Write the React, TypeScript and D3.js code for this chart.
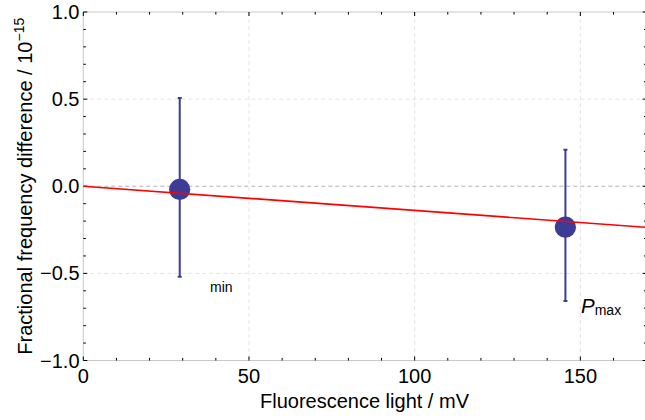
import React from "react";
import * as d3 from "d3";

const W = 645;
const H = 420;

// data
const pointX = [29.1, 145.5];
const pointY = [-0.018, -0.235];
const errHigh = [0.506, 0.21];
const errLow = [-0.52, -0.658];
const fitX = [0, 170];
const fitY = [0, -0.236];
const xMajor = [0, 50, 100, 150];
const xMajorLabels = ["0", "50", "100", "150"];
const yMajor = [-1, -0.5, 0, 0.5, 1];
const yMajorLabels = ["\u22121.0", "\u22120.5", "0.0", "0.5", "1.0"];
const xGrid = [50, 100, 150];
const yGrid = [-0.5, 0.5];

const xMinor = d3.range(0, 171, 10);
const yMinor = d3.range(-10, 11, 1).map((v) => v / 10);

const FONT = "'Liberation Sans', Arial, Helvetica, sans-serif";
const BLUE = "#3c3c97";

export default function App() {
  const left = 83.3;
  const right = 646.6;
  const top = 12;
  const bottom = 360.5;
  const x = d3.scaleLinear().domain([0, 170]).range([left, right]);
  const y = d3.scaleLinear().domain([-1, 1]).range([bottom, top]);
  const line = d3
    .line<number>()
    .x((_, i) => x(fitX[i]))
    .y((_, i) => y(fitY[i]));

  return (
    <svg
      width={W}
      height={H}
      style={{ position: "absolute", left: 0, top: 0, background: "#fff" }}
      fontFamily={FONT}
    >
      <defs>
        <clipPath id="plot">
          <rect x={left} y={top} width={right - left} height={bottom - top} />
        </clipPath>
      </defs>
      {/* grid */}
      {xGrid.map((v) => (
        <line
          key={"gx" + v}
          x1={x(v)}
          x2={x(v)}
          y1={top}
          y2={bottom}
          stroke="#e4e4e4"
          strokeWidth={1}
          strokeDasharray="4,3"
        />
      ))}
      {yGrid.map((v) => (
        <line
          key={"gy" + v}
          x1={left}
          x2={right}
          y1={y(v)}
          y2={y(v)}
          stroke="#e4e4e4"
          strokeWidth={1}
          strokeDasharray="4,3"
        />
      ))}
      <line
        x1={left}
        x2={right}
        y1={y(0)}
        y2={y(0)}
        stroke="#b4b4b4"
        strokeWidth={1}
        strokeDasharray="4,3"
      />
      {/* frame */}
      <rect
        x={left}
        y={top}
        width={right - left}
        height={bottom - top}
        fill="none"
        stroke="#c8c8c8"
        strokeWidth={1}
      />
      {/* ticks */}
      {xMinor.map((v) => {
        const major = xMajor.includes(v);
        const len = major ? 4 : 2.6;
        return (
          <g key={"tx" + v}>
            <line x1={x(v)} x2={x(v)} y1={bottom} y2={bottom - len} stroke="#000" strokeWidth={1} />
            <line x1={x(v)} x2={x(v)} y1={top} y2={top + len} stroke="#000" strokeWidth={1} />
          </g>
        );
      })}
      {yMinor.map((v) => {
        const major = yMajor.some((m) => Math.abs(m - v) < 1e-9);
        const len = major ? 4 : 2.6;
        return (
          <g key={"ty" + v}>
            <line x1={left} x2={left + len} y1={y(v)} y2={y(v)} stroke="#000" strokeWidth={1} />
            <line x1={right} x2={right - len} y1={y(v)} y2={y(v)} stroke="#000" strokeWidth={1} />
          </g>
        );
      })}
      {/* tick labels */}
      {xMajor.map((v, i) => (
        <text key={"lx" + v} x={x(v)} y={383} textAnchor="middle" fontSize={20} fill="#000">
          {xMajorLabels[i]}
        </text>
      ))}
      {yMajor.map((v, i) => (
        <text
          key={"ly" + v}
          x={79.5}
          y={y(v) + 7}
          textAnchor="end"
          fontSize={20}
          fill="#000"
        >
          {yMajorLabels[i]}
        </text>
      ))}
      {/* axis titles */}
      <text x={364.5} y={408.3} textAnchor="middle" fontSize={20} fill="#000">
        Fluorescence light / mV
      </text>
      <text
        transform={`translate(31.7, ${(top + bottom) / 2}) rotate(-90)`}
        textAnchor="middle"
        fontSize={20}
        fill="#000"
      >
        Fractional frequency difference / 10
        <tspan fontSize={14} dy={-8}>
          {"\u221215"}
        </tspan>
      </text>
      {/* error bars and points */}
      <g clipPath="url(#plot)">
        {pointX.map((v, i) => (
          <g key={"pt" + i}>
            <line x1={x(v)} x2={x(v)} y1={y(errHigh[i])} y2={y(errLow[i])} stroke={BLUE} strokeWidth={2} />
            <line x1={x(v) - 2} x2={x(v) + 2} y1={y(errHigh[i])} y2={y(errHigh[i])} stroke={BLUE} strokeWidth={2} />
            <line x1={x(v) - 2} x2={x(v) + 2} y1={y(errLow[i])} y2={y(errLow[i])} stroke={BLUE} strokeWidth={2} />
            <circle cx={x(v)} cy={y(pointY[i])} r={10.6} fill={BLUE} />
          </g>
        ))}
        <path d={line(fitX) || ""} fill="none" stroke="#ff0000" strokeWidth={1.7} />
      </g>
      {/* annotations */}
      <text x={210} y={291.7} fontSize={14} fill="#000">
        min
      </text>
      <text x={581} y={312.7} fontSize={20.5} fill="#000" fontStyle="italic">
        P
        <tspan fontSize={14} fontStyle="normal" dy={2.3}>
          max
        </tspan>
      </text>
    </svg>
  );
}
